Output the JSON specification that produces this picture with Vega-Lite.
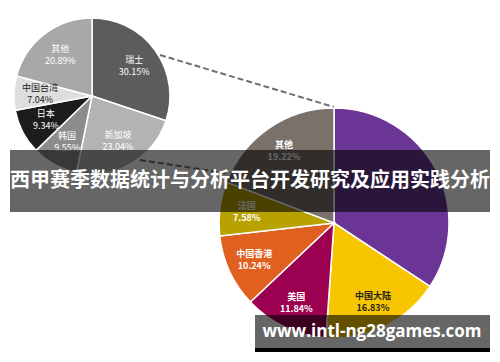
{
  "$schema": "https://vega.github.io/schema/vega-lite/v6.json",
  "width": 500,
  "height": 362,
  "autosize": {"type": "fit", "contains": "padding"},
  "padding": 0,
  "background": "white",
  "config": {"view": {"stroke": null}},
  "datasets": {
    "left": [
      {"地区": "瑞士", "占比": 0.3015},
      {"地区": "新加坡", "占比": 0.2304},
      {"地区": "韩国", "占比": 0.0955},
      {"地区": "日本", "占比": 0.0934},
      {"地区": "中国台湾", "占比": 0.0704},
      {"地区": "其他", "占比": 0.2089}
    ],
    "right": [
      {"地区": "西班牙", "占比": 0.3429},
      {"地区": "中国大陆", "占比": 0.1683},
      {"地区": "美国", "占比": 0.1184},
      {"地区": "中国香港", "占比": 0.1024},
      {"地区": "法国", "占比": 0.0758},
      {"地区": "其他", "占比": 0.1922}
    ],
    "links": [
      {"x": 160, "y": 55, "x2": 334, "y2": 107},
      {"x": 140, "y": 160, "x2": 232, "y2": 174}
    ],
    "title": [{"t": "西甲赛季数据统计与分析平台开发研究及应用实践分析"}],
    "site": [{"t": "www.intl-ng28games.com"}]
  },
  "layer": [
    {
      "data": {"name": "links"},
      "mark": {"type": "rule", "stroke": "#707070", "strokeWidth": 2, "strokeDash": [6, 3]},
      "encoding": {
        "x": {"field": "x", "type": "quantitative", "scale": {"domain": [0, 500], "nice": false, "zero": false}, "axis": null},
        "y": {"field": "y", "type": "quantitative", "scale": {"domain": [0, 362], "nice": false, "zero": false, "reverse": true}, "axis": null},
        "x2": {"field": "x2"},
        "y2": {"field": "y2"}
      }
    },
    {
      "data": {"name": "left"},
      "transform": [{"window": [{"op": "row_number", "as": "序"}]}],
      "mark": {"type": "arc", "outerRadius": 78, "stroke": "white", "strokeWidth": 1.5},
      "encoding": {
        "x": {"datum": 92, "type": "quantitative"},
        "y": {"datum": 96, "type": "quantitative"},
        "theta": {"field": "占比", "type": "quantitative", "stack": "normalize"},
        "order": {"field": "序", "type": "quantitative"},
        "color": {"field": "地区", "type": "nominal", "legend": null,
          "scale": {"domain": ["瑞士", "新加坡", "韩国", "日本", "中国台湾", "其他"],
                    "range": ["#5c5c5c", "#b3b3b3", "#8c8c8c", "#1c1c1c", "#dedede", "#a8a8a8"]}}
      }
    },
    {
      "data": {"name": "right"},
      "transform": [{"window": [{"op": "row_number", "as": "序"}]}],
      "mark": {"type": "arc", "outerRadius": 115, "stroke": "white", "strokeWidth": 1.5},
      "encoding": {
        "x": {"datum": 334, "type": "quantitative"},
        "y": {"datum": 223, "type": "quantitative"},
        "theta": {"field": "占比", "type": "quantitative", "stack": "normalize"},
        "order": {"field": "序", "type": "quantitative"},
        "color": {"field": "地区", "type": "nominal", "legend": null,
          "scale": {"domain": ["西班牙", "中国大陆", "美国", "中国香港", "法国", "其他"],
                    "range": ["#6a3594", "#f7c600", "#9c0050", "#e0601f", "#b9a200", "#7a716b"]}}
      }
    },
    {
      "data": {"name": "left"},
      "transform": [{"window": [{"op": "row_number", "as": "序"}]}],
      "mark": {"type": "text", "radius": 52, "dy": -6, "fontSize": 9, "font": "Noto Sans CJK SC"},
      "encoding": {
        "x": {"datum": 92, "type": "quantitative"},
        "y": {"datum": 96, "type": "quantitative"},
        "theta": {"field": "占比", "type": "quantitative", "stack": "normalize"},
        "order": {"field": "序", "type": "quantitative"},
        "text": {"field": "地区"},
        "color": {"condition": {"test": "datum['地区'] === '中国台湾'", "value": "#222222"}, "value": "white"}
      }
    },
    {
      "data": {"name": "left"},
      "transform": [{"window": [{"op": "row_number", "as": "序"}]}],
      "mark": {"type": "text", "radius": 52, "dy": 6, "fontSize": 9, "font": "Noto Sans CJK SC"},
      "encoding": {
        "x": {"datum": 92, "type": "quantitative"},
        "y": {"datum": 96, "type": "quantitative"},
        "theta": {"field": "占比", "type": "quantitative", "stack": "normalize"},
        "order": {"field": "序", "type": "quantitative"},
        "text": {"field": "占比", "format": ".2%"},
        "color": {"condition": {"test": "datum['地区'] === '中国台湾'", "value": "#222222"}, "value": "white"}
      }
    },
    {
      "data": {"name": "right"},
      "transform": [{"window": [{"op": "row_number", "as": "序"}]}],
      "mark": {"type": "text", "radius": 88, "dy": -6, "fontSize": 9, "fontWeight": "bold", "font": "Noto Sans CJK SC"},
      "encoding": {
        "x": {"datum": 334, "type": "quantitative"},
        "y": {"datum": 223, "type": "quantitative"},
        "theta": {"field": "占比", "type": "quantitative", "stack": "normalize"},
        "order": {"field": "序", "type": "quantitative"},
        "text": {"field": "地区"},
        "opacity": {"condition": {"test": "datum['地区'] === '西班牙'", "value": 0}, "value": 1},
        "color": {"condition": {"test": "datum['地区'] === '中国大陆'", "value": "#222222"}, "value": "white"}
      }
    },
    {
      "data": {"name": "right"},
      "transform": [{"window": [{"op": "row_number", "as": "序"}]}],
      "mark": {"type": "text", "radius": 88, "dy": 6, "fontSize": 9, "fontWeight": "bold", "font": "Noto Sans CJK SC"},
      "encoding": {
        "x": {"datum": 334, "type": "quantitative"},
        "y": {"datum": 223, "type": "quantitative"},
        "theta": {"field": "占比", "type": "quantitative", "stack": "normalize"},
        "order": {"field": "序", "type": "quantitative"},
        "text": {"field": "占比", "format": ".2%"},
        "opacity": {"condition": {"test": "datum['地区'] === '西班牙'", "value": 0}, "value": 1},
        "color": {"condition": {"test": "datum['地区'] === '中国大陆'", "value": "#222222"}, "value": "white"}
      }
    },
    {
      "data": {"values": [{}]},
      "mark": {"type": "rect", "fill": "black", "opacity": 0.6},
      "encoding": {
        "x": {"datum": 10, "type": "quantitative"},
        "x2": {"datum": 490},
        "y": {"datum": 150, "type": "quantitative"},
        "y2": {"datum": 212}
      }
    },
    {
      "data": {"name": "title"},
      "mark": {"type": "text", "fontSize": 20, "fontWeight": "bold", "font": "Noto Sans CJK SC", "fill": "white", "align": "center", "baseline": "middle"},
      "encoding": {
        "x": {"datum": 250, "type": "quantitative"},
        "y": {"datum": 181, "type": "quantitative"},
        "text": {"field": "t"}
      }
    },
    {
      "data": {"values": [{}]},
      "mark": {"type": "rect", "fill": "black", "opacity": 0.6},
      "encoding": {
        "x": {"datum": 255, "type": "quantitative"},
        "x2": {"datum": 490},
        "y": {"datum": 315, "type": "quantitative"},
        "y2": {"datum": 348}
      }
    },
    {
      "data": {"values": [{}]},
      "mark": {"type": "rect", "fill": "black"},
      "encoding": {
        "x": {"datum": 255, "type": "quantitative"},
        "x2": {"datum": 490},
        "y": {"datum": 348, "type": "quantitative"},
        "y2": {"datum": 352}
      }
    },
    {
      "data": {"name": "site"},
      "mark": {"type": "text", "fontSize": 17, "fontWeight": "bold", "font": "Open Sans", "fill": "white", "align": "center", "baseline": "middle"},
      "encoding": {
        "x": {"datum": 372, "type": "quantitative"},
        "y": {"datum": 332, "type": "quantitative"},
        "text": {"field": "t"}
      }
    }
  ],
  "resolve": {"scale": {"color": "independent", "theta": "independent", "opacity": "independent"}}
}
